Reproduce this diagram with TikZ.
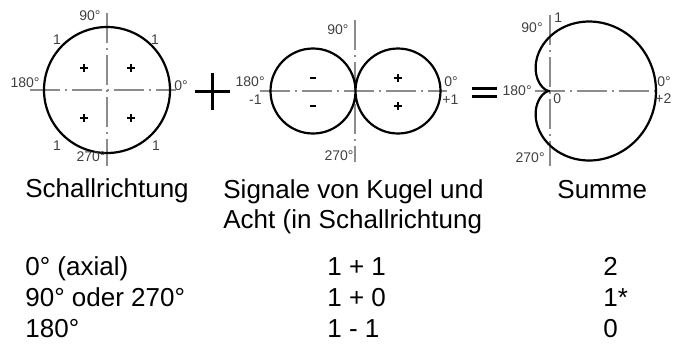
\documentclass[tikz,border=0pt]{standalone}
\usepackage{fontspec}
\setmainfont{Liberation Sans}
\usepackage{tikz}

\begin{document}
\begin{tikzpicture}[x=0.5pt,y=-0.5pt,
  axis/.style={black!45, line width=0.7pt, dash pattern=on 15pt off 2.5pt on 1pt off 2.5pt},
  curve/.style={line width=1.1pt},
  sign/.style={line width=0.9pt},
  big/.style={line width=1.5pt},
  lbl/.style={font=\fontsize{7}{8}\selectfont, text=black!75, inner sep=0pt},
  txt/.style={font=\fontsize{13}{15}\selectfont, inner sep=0pt, anchor=base west}]
\useasboundingbox (0,0) rectangle (683,344);
\coordinate (K) at (107,90) ;
\coordinate (L) at (313,91) ;
\coordinate (R) at (398,91) ;
\coordinate (N) at (549,91) ;
% Kugel
\draw[axis] (30,90) -- (176,90) ;
\draw[axis] (107,13) -- (107,166) ;
\draw[curve] (K) circle (63) ;
\foreach \dx/\dy in {-23/-22, 24/-22, -23/28, 24/28}
  \draw[sign, shift={(K)}] (\dx-4,\dy) -- ++(8,0) (\dx,\dy-4) -- ++(0,8) ;
\begin{scope}[every node/.style={lbl}]
\node (k90) at (90,16) {90°} ;
\node[anchor=east] (k180) at (40,83) {180°} ;
\node[anchor=west] (k0) at (174,86) {0°} ;
\node (k270) at (91,157) {270°} ;
\node (k1a) at (57,40) {1} ;
\node (k1b) at (155,40) {1} ;
\node (k1c) at (57,146) {1} ;
\node (k1d) at (156,146) {1} ;
\end{scope}
\draw[big] (195,91) -- (230,91) (212,73) -- (212,110) ;
% Acht
\draw[axis] (260,91) -- (447,91) ;
\draw[axis] (355,20) -- (355,162) ;
\draw[curve] (L) circle (42.5) (R) circle (42.5) ;
\foreach \y in {78,106} {
  \draw[sign] (310,\y) -- (316,\y) ;
  \draw[sign] (394,\y) -- (402,\y) (398,\y-4) -- (398,\y+4) ;
}
\begin{scope}[every node/.style={lbl}]
\node (a90) at (338,30) {90°} ;
\node (a270) at (339,156) {270°} ;
\node[anchor=east] (a180) at (265,82) {180°} ;
\node[anchor=east] (am1) at (262,100) {-1} ;
\node[anchor=west] (a0) at (444,82) {0°} ;
\node[anchor=west] (ap1) at (442,100) {+1} ;
\end{scope}
\draw[big] (472,88) -- (497,88) (472,96) -- (497,96) ;
% Summe
\draw[axis] (535,91) -- (657,91) ;
\draw[axis] (550,15) -- (550,166) ;
\draw[curve] plot[domain=0:360, samples=120, smooth]
  ({549+53.5*(1+cos(\x))*cos(\x)}, {91-53.5*(1+cos(\x))*sin(\x)}) ;
\begin{scope}[every node/.style={lbl}]
\node[anchor=east] (s90) at (543,28) {90°} ;
\node[anchor=west] (s1) at (554,18) {1} ;
\node[anchor=east] (s180) at (532,91) {180°} ;
\node[anchor=west] (s0) at (553,99) {0} ;
\node[anchor=west] (sz) at (657,82) {0°} ;
\node[anchor=west] (sp2) at (655,99) {+2} ;
\node[anchor=east] (s270) at (545,158) {270°} ;
\end{scope}
% Tabelle
\begin{scope}[every node/.style={txt}]
\node (h1) at (25,197) {Schallrichtung} ;
\node (h2) at (223,198) {Signale von Kugel und} ;
\node (h2b) at (223,228) {Acht (in Schallrichtung} ;
\node (h3) at (557,198) {Summe} ;
\node (r1) at (25,275) {0° (axial)} ;
\node (r2) at (25,306) {90° oder 270°} ;
\node (r3) at (25,337) {180°} ;
\node (c1) at (327,275) {1 + 1} ;
\node (c2) at (327,306) {1 + 0} ;
\node (c3) at (327,337) {1 - 1} ;
\node (e1) at (603,275) {2} ;
\node (e2) at (603,306) {1*} ;
\node (e3) at (603,337) {0} ;
\end{scope}
\end{tikzpicture}
\end{document}
